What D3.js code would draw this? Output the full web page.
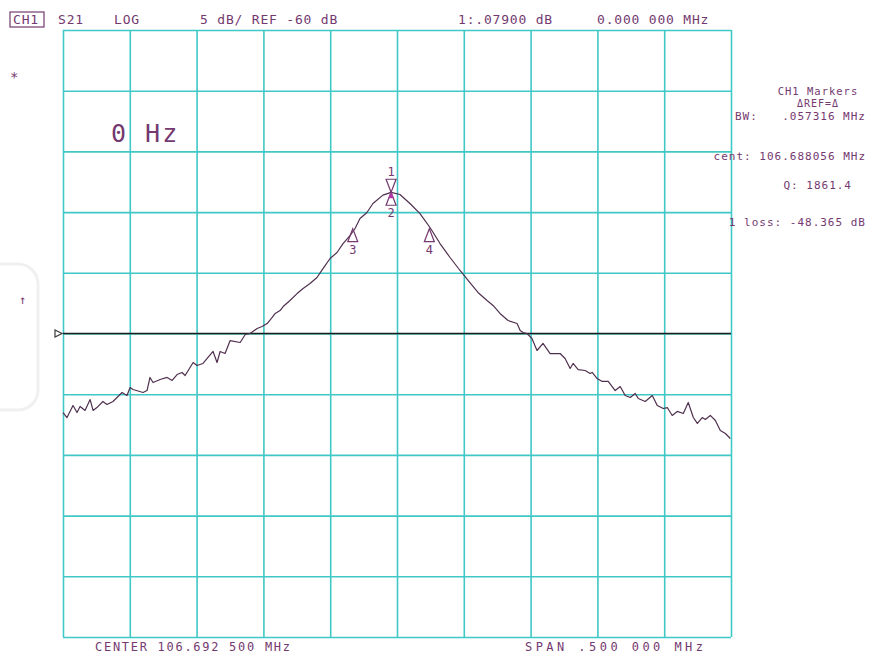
<!DOCTYPE html>
<html>
<head>
<meta charset="utf-8">
<script src="https://cdn.jsdelivr.net/npm/d3@7/dist/d3.min.js"></script>
<style>
  html, body { margin: 0; padding: 0; background: #fff; }
  svg { display: block; }
  text { font-family: "DejaVu Sans Mono", monospace; fill: #74396f; }
</style>
</head>
<body>
<svg id="vna"></svg>
<script>
// ─── Trace data: S21 sweep, offset from centre (kHz) and level (dB) ──────────
const offsetKHz = [
  -250.0, -247.0, -242.5, -239.5, -237.2, -233.5, -229.7, -227.5, -224.6, -220.1,
  -217.1, -212.6, -205.8, -202.1, -199.8, -197.6, -190.1, -187.1, -184.9, -182.6,
  -177.3, -172.1, -168.3, -164.6, -160.9, -158.6, -152.6, -149.7, -145.2, -137.7,
  -134.7, -132.4, -128.7, -124.9, -117.4, -113.6, -110.0, -104.7, -101.0,  -97.2,
   -93.4,  -91.2,  -87.5,  -85.2,  -80.1,  -74.8,  -70.3,  -65.1,  -59.9,  -55.4,
   -50.1,  -44.9,  -40.4,  -35.2,  -31.4,  -27.7,  -22.5,  -18.0,  -10.5,   -4.4,
     2.2,    9.7,   17.2,   24.7,   32.2,   39.7,   47.2,   54.6,   60.6,   67.4,
    71.9,   77.1,   83.1,   89.9,   92.2,   94.4,   97.3,  101.0,  104.8,  109.3,
   114.6,  122.1,  125.8,  129.6,  131.8,  135.6,  140.8,  144.6,  146.1,  149.8,
   153.6,  158.1,  163.3,  167.1,  170.8,  174.6,  178.3,  180.6,  185.8,  191.1,
   194.8,  199.3,  202.3,  206.0,  209.8,  214.3,  218.0,  221.8,  224.8,  228.5,
   230.8,  234.5,  238.3,  242.0,  245.8,  249.5
];
const s21dB = [
  -66.51, -66.92, -65.93, -66.51, -66.01, -66.34, -65.44, -66.34, -66.10, -65.60,
  -65.85, -65.60, -64.86, -65.11, -64.45, -64.61, -64.86, -64.70, -63.62, -64.04,
  -63.79, -63.62, -63.87, -63.38, -63.21, -63.46, -62.39, -62.64, -62.47, -61.48,
  -62.39, -61.48, -61.65, -60.58, -60.74, -60.08, -60.00, -59.59, -59.42, -59.18,
  -58.68, -58.35, -58.11, -57.78, -57.28, -56.71, -56.29, -55.88, -55.39, -54.65,
  -53.82, -53.33, -52.59, -51.93, -51.35, -50.53, -50.03, -49.29, -48.60, -48.37,
  -48.55, -49.29, -50.12, -51.27, -52.59, -53.74, -54.81, -55.80, -56.62, -57.28,
  -57.69, -58.35, -58.93, -59.18, -59.75, -59.92, -60.00, -60.41, -61.40, -60.82,
  -61.65, -61.65, -62.06, -62.88, -62.47, -62.97, -63.05, -63.29, -63.21, -63.71,
  -63.95, -63.95, -64.70, -64.37, -65.11, -65.27, -64.94, -65.35, -65.60, -65.11,
  -65.93, -66.18, -66.10, -66.75, -66.42, -66.59, -65.68, -66.92, -67.41, -66.92,
  -67.08, -66.75, -67.17, -67.99, -68.24, -68.65
];

// ─── Markers ─────────────────────────────────────────────────────────────────
const markerIds  = ['1', '2', '3', '4'];
const markerKHz  = [-4.44, -4.44, -33.10, 24.21];
const markerDB   = [-48.365, -48.365, -51.365, -51.365];
const markerUp   = [false, true, true, true];

// ─── Annotation texts ────────────────────────────────────────────────────────
const headerTexts = ['CH1', 'S21', 'LOG', '5 dB/ REF -60 dB', '1:.07900 dB', '0.000 000 MHz'];
const panelTexts  = ['CH1 Markers', '\u0394REF=\u0394', 'BW:', '.057316 MHz',
                     'cent: 106.688056 MHz', 'Q: 1861.4', '1 loss: -48.365 dB'];
const footerTexts = ['CENTER 106.692 500 MHz', 'SPAN  .500 000 MHz'];
const refLevel    = -60;
const spanKHz     = [-250, 250];
const levelDB     = [-85, -35];

// ─── Layout ──────────────────────────────────────────────────────────────────
const W = 871, H = 653;
const M = { top: 30, right: 140, bottom: 16, left: 63 };
const IW = W - M.left - M.right;
const IH = H - M.top - M.bottom;

const GRID  = '#40c8c6';
const TRACE = '#50304f';
const INK   = '#74396f';

const x = d3.scaleLinear().domain(spanKHz).range([0, IW]);
const y = d3.scaleLinear().domain(levelDB).range([IH, 0]);

const svg = d3.select('#vna').attr('width', W).attr('height', H);

// faint watermark at left edge
svg.append('rect')
  .attr('x', -62).attr('y', 264).attr('width', 100).attr('height', 146).attr('rx', 20)
  .attr('fill', 'none').attr('stroke', '#f0f0f0').attr('stroke-width', 3);

const g = svg.append('g').attr('transform', `translate(${M.left},${M.top})`);

// ── Grid (10 x 10) ──────────────────────────────────────────────────────────
g.append('g').attr('class', 'grid-x')
  .attr('transform', `translate(0,${IH})`)
  .call(d3.axisBottom(x).ticks(10).tickSizeInner(-IH).tickSizeOuter(0).tickFormat(''))
  .call(a => a.select('.domain').remove())
  .call(a => a.selectAll('line').attr('stroke', GRID).attr('stroke-width', 1.6));

g.append('g').attr('class', 'grid-y')
  .call(d3.axisLeft(y).ticks(10).tickSizeInner(-IW).tickSizeOuter(0).tickFormat(''))
  .call(a => a.select('.domain').remove())
  .call(a => a.selectAll('line').attr('stroke', GRID).attr('stroke-width', 1.6));

// ── Reference line ──────────────────────────────────────────────────────────
g.append('line')
  .attr('x1', x(spanKHz[0])).attr('x2', x(spanKHz[1]))
  .attr('y1', y(refLevel)).attr('y2', y(refLevel))
  .attr('stroke', '#1e1e1e').attr('stroke-width', 1.5);

const ry = y(refLevel);
g.append('path')
  .attr('d', `M-8,${ry - 3.5}L-1,${ry}L-8,${ry + 3.5}Z`)
  .attr('fill', '#fff').attr('stroke', '#3a3a3a').attr('stroke-width', 1.2);

// ── Trace ───────────────────────────────────────────────────────────────────
const trace = offsetKHz.map((f, i) => [f, s21dB[i]]);
g.append('path').datum(trace)
  .attr('fill', 'none').attr('stroke', TRACE).attr('stroke-width', 1.2)
  .attr('stroke-linejoin', 'round')
  .attr('d', d3.line().x(d => x(d[0])).y(d => y(d[1])));

// ── Markers ─────────────────────────────────────────────────────────────────
const mk = markerIds.map((id, i) => ({ id, f: markerKHz[i], db: markerDB[i], up: markerUp[i] }));
const mg = g.selectAll('.mk').data(mk).enter().append('g').attr('class', 'mk')
  .attr('transform', d => `translate(${x(d.f)},${y(d.db)})`);

mg.append('path')
  .attr('d', d => d.up ? 'M0,0L-5,13L5,13Z' : 'M0,0L-5,-13L5,-13Z')
  .attr('fill', 'none').attr('stroke', INK).attr('stroke-width', 1.2);

mg.filter(d => d.id === '2').append('path')
  .attr('d', 'M0,0L-3,6L3,6Z').attr('fill', '#b03aa8');

mg.append('text')
  .attr('text-anchor', 'middle').attr('font-size', 12)
  .attr('y', d => d.up ? 25 : -16)
  .text(d => d.id);

// ── Header ──────────────────────────────────────────────────────────────────
const hx = [13, 58, 114, 200, 458, 597];
svg.append('rect').attr('x', 10).attr('y', 12).attr('width', 34).attr('height', 15)
  .attr('fill', 'none').attr('stroke', INK).attr('stroke-width', 1.2);
svg.selectAll('.hdr').data(headerTexts).enter().append('text').attr('class', 'hdr')
  .attr('x', (d, i) => hx[i]).attr('y', 24)
  .attr('font-size', 13).attr('letter-spacing', 0.8)
  .text(d => d);

// ── Right panel ─────────────────────────────────────────────────────────────
const panel = [
  { t: panelTexts[0], x: 818, y: 95,  a: 'middle', s: 10.5 },
  { t: panelTexts[1], x: 818, y: 107, a: 'middle', s: 10 },
  { t: panelTexts[2], x: 735, y: 120, a: 'start',  s: 11 },
  { t: panelTexts[3], x: 866, y: 120, a: 'end',    s: 11 },
  { t: panelTexts[4], x: 866, y: 160, a: 'end',    s: 11 },
  { t: panelTexts[5], x: 852, y: 189, a: 'end',    s: 11 },
  { t: panelTexts[6], x: 866, y: 226, a: 'end',    s: 11 }
];
svg.selectAll('.pnl').data(panel).enter().append('text').attr('class', 'pnl')
  .attr('x', d => d.x).attr('y', d => d.y).attr('text-anchor', d => d.a)
  .attr('font-size', d => d.s).attr('letter-spacing', 1)
  .text(d => d.t);

// ── Left side glyphs ────────────────────────────────────────────────────────
svg.append('text').attr('x', 10).attr('y', 82).attr('font-size', 14).text('*');
svg.append('text').attr('x', 19).attr('y', 304).attr('font-size', 12).text('\u2191');
svg.append('text').attr('x', 111).attr('y', 142).attr('font-size', 25)
  .attr('letter-spacing', 2).attr('fill', '#6b3467').text('0 Hz');

// ── Footer ──────────────────────────────────────────────────────────────────
svg.append('text').attr('x', 95).attr('y', 651).attr('font-size', 12)
  .attr('textLength', 195).attr('lengthAdjust', 'spacing').text(footerTexts[0]);
svg.append('text').attr('x', 525).attr('y', 651).attr('font-size', 12)
  .attr('textLength', 178).attr('lengthAdjust', 'spacing').text(footerTexts[1]);
</script>
</body>
</html>
